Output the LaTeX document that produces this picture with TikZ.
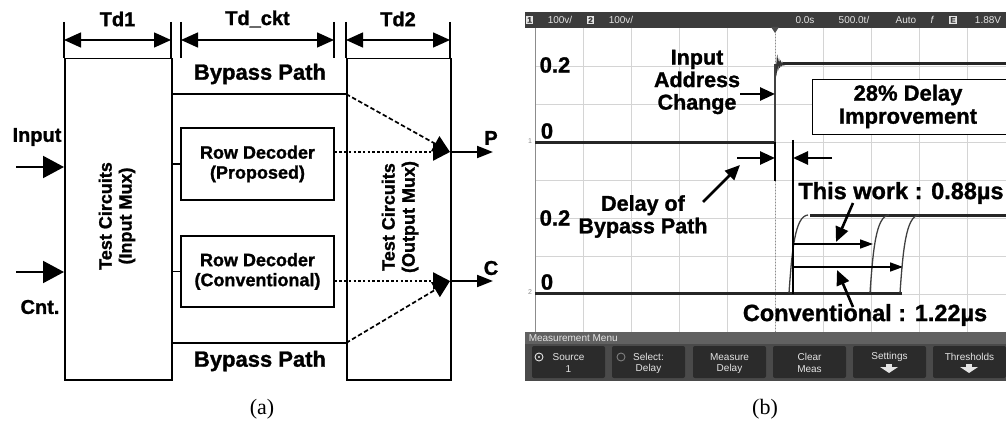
\documentclass[tikz,border=0pt]{standalone}
\usepackage{fontspec}
\setmainfont{Liberation Sans}[BoldFeatures={FakeBold=1.2}]
\newfontfamily\capfont{Liberation Serif}
\usetikzlibrary{arrows.meta}
\definecolor{scopebar}{HTML}{3C3C3C}
\definecolor{scopegrid}{HTML}{D4D4D4}
\definecolor{scopeedge}{HTML}{8C8C8C}
\definecolor{menustrip}{HTML}{616161}
\definecolor{menuback}{HTML}{4A4A4A}
\definecolor{softkey}{HTML}{2B2B2B}
\definecolor{keytext}{HTML}{E4E4E4}

\begin{document}
\begin{tikzpicture}[x=1pt, y=-1pt, line width=1.5pt,
    >={Triangle[length=17pt,width=15pt]},
    blk/.style={draw, line width=1.5pt, inner sep=0pt},
    txtA/.style={font=\bfseries\fontsize{18}{20}\selectfont, align=center, inner sep=0pt},
    txtB/.style={font=\bfseries\fontsize{20}{22}\selectfont, align=center, inner sep=0pt},
    txtC/.style={font=\bfseries\fontsize{22}{23}\selectfont, align=center, inner sep=0pt},
    txtD/.style={font=\bfseries\fontsize{23.5}{24}\selectfont, align=center, inner sep=0pt},
    txtE/.style={font=\bfseries\fontsize{21.5}{22.5}\selectfont, align=center, inner sep=0pt},
    dotline/.style={line width=2.4pt, dash pattern=on 2.5pt off 2.2pt},
    dashline/.style={line width=1.7pt, dash pattern=on 4.5pt off 2.5pt},
    muxtip/.style={-{Triangle[length=17pt,width=17pt]}},
    inarrow/.style={-{Triangle[length=21pt,width=22pt]}, line width=2pt},
    outarrow/.style={-{Triangle[length=16pt,width=12pt]}, line width=2pt},
    gridline/.style={scopegrid, line width=0.8pt},
    trace/.style={line width=3pt, black!85},
    edgeline/.style={line width=1.3pt, black!75},
    cursor/.style={line width=2.6pt},
    pointer/.style={-{Triangle[length=15pt,width=13pt]}, line width=2.6pt},
    thinarrow/.style={-{Triangle[length=13pt,width=9pt]}, line width=1.6pt},
    keylbl/.style={text=keytext, font=\fontsize{10}{10}\selectfont, inner sep=0pt},
    chtag/.style={fill=keytext, text=scopebar, font=\bfseries\fontsize{8}{8}\selectfont, inner sep=1pt},
    caption/.style={font=\capfont\fontsize{22}{22}\selectfont, inner sep=0pt}]

\path[use as bounding box, fill=white] (0,0) rectangle (1006,422);

% (a) measurement setup
\node[blk, minimum width=107pt, minimum height=321pt, anchor=north west] (inmux) at (64,58) {};
\node[blk, minimum width=104pt, minimum height=321pt, anchor=north west] (outmux) at (346,58) {};
\node[txtA, rotate=90] (inmuxlbl) at (117,216) {Test Circuits\\(Input Mux)};
\node[txtA, rotate=90] (outmuxlbl) at (400,217) {Test Circuits\\(Output Mux)};

\node[blk, txtA, minimum width=153pt, minimum height=72pt] (rdprop) at (257.5,164) {Row Decoder\\(Proposed)};
\node[blk, txtA, minimum width=153pt, minimum height=71pt] (rdconv) at (257.5,271.5) {Row Decoder\\(Conventional)};

% timing spans
\foreach \tx/\tn in {64/a, 171/b, 181/c, 334/d, 346/e, 450/f} {
    \coordinate (tk\tn) at (\tx,40);
    \draw (\tx,22) -- (\tx,58);
}
\draw[<->] (tka) -- (tkb);
\draw[<->] (tkc) -- (tkd);
\draw[<->] (tke) -- (tkf);
\node[txtB] (td1) at (117.5,19) {Td1};
\node[txtB] (tdckt) at (257.5,19) {Td\_ckt};
\node[txtB] (td2) at (398,19) {Td2};

% inputs
\coordinate (inpt) at (16,167);
\coordinate (cntpt) at (16,272);
\draw[inarrow] (inpt) -- (inpt -| inmux.west);
\draw[inarrow] (cntpt) -- (cntpt -| inmux.west);
\node[txtB] (inlbl) at (37,137) {Input};
\node[txtB] (cntlbl) at (40,307) {Cnt.};

% bypass paths
\coordinate (bpt) at (346,94);
\coordinate (bpb) at (346,343);
\draw (bpt -| inmux.east) -- (bpt);
\draw (bpb -| inmux.east) -- (bpb);
\node[txtC] (bptlbl) at (260,74) {Bypass Path};
\node[txtC] (bpblbl) at (260,361) {Bypass Path};

\draw (inmux.east |- rdprop.west) -- (rdprop.west);
\draw (inmux.east |- rdconv.west) -- (rdconv.west);

% outputs
\coordinate (pout) at (450,152);
\coordinate (cout) at (450,281);
\coordinate (pend) at (493,152);
\coordinate (cend) at (493,281);
\draw[dotline, muxtip] (rdprop.east |- pout) -- (pout);
\draw[dotline, muxtip] (rdconv.east |- cout) -- (cout);
\draw[dashline, muxtip] (bpt) -- (pout);
\draw[dashline, muxtip] (bpb) -- (cout);
\draw[outarrow] (pout) -- (pend);
\draw[outarrow] (cout) -- (cend);
\node[txtB] (plbl) at (491,138) {P};
\node[txtB] (clbl) at (491,268) {C};

\node[caption] (capa) at (262,409) {(a)};

% (b) scope capture
\begin{scope}
\clip (510,0) rectangle (1006,422);

% status bar
\fill[scopebar] (525,12) rectangle (1010,28);
\node[chtag] (ch1tag) at (529.5,20) {1};
\node[keylbl] (ch1scale) at (560,20) {100v/};
\node[chtag] (ch2tag) at (590.5,20) {2};
\node[keylbl] (ch2scale) at (621,20) {100v/};
\node[keylbl] (tpos) at (805,20) {0.0s};
\node[keylbl] (tscale) at (854,20) {500.0t/};
\node[keylbl] (tmode) at (906,20) {Auto};
\node[keylbl] (tslope) at (932,20) {\itshape f};
\node[chtag] (etag) at (953,20) {E};
\node[keylbl] (tlevel) at (988,20) {1.88V};

% graticule
\fill[white] (535,28) rectangle (1010,332);
\foreach \gx in {1,...,9}
    \draw[gridline] ({535+48*\gx},28) -- ({535+48*\gx},332);
\foreach \gy in {1,...,7}
    \draw[gridline] (535,{28+38.1*\gy}) -- (1010,{28+38.1*\gy});
\draw[scopeedge, dash pattern=on 1pt off 2pt, line width=0.8pt] (775,28) -- (775,332);
\draw[scopeedge, line width=1pt] (535,28) -- (535,332);
\fill[black!70] (771,27) -- (779,27) -- (775,33) -- cycle;
\node[text=scopeedge, font=\fontsize{7}{7}\selectfont, inner sep=0pt] (ch1mark) at (530,141) {1};
\node[text=scopeedge, font=\fontsize{7}{7}\selectfont, inner sep=0pt] (ch2mark) at (530,292) {2};

% channel 1
\draw[trace] (535,143) -- (775,143);
\draw[edgeline] (775,143) -- (775,64);
\draw[line width=0.8pt, black!80] plot[domain=0:16, samples=90, smooth]
    ({776+\x},{64+10*exp(-\x/3.5)*sin(\x*220)});
\draw[trace] (783,64) -- (1010,64);

% channel 2
\draw[trace] (535,293) -- (902,293);
\draw[trace] (810,215) -- (1010,215);
\foreach \rx in {789, 870, 900}
    \draw[edgeline] (\rx,293) .. controls (\rx+3,250) and (\rx+6,216) .. (\rx+19,215);

% cursors
\draw[cursor] (775,142) -- (775,181);
\draw[cursor] (793,140) -- (793,294);
\coordinate (cur1) at (775,158);
\coordinate (cur2) at (793,158);
\coordinate (cur1tail) at (737,158);
\coordinate (cur2tail) at (832,158);
\draw[pointer] (cur1tail) -- (cur1);
\draw[pointer] (cur2tail) -- (cur2);

\coordinate (dpstart) at (793,244);
\coordinate (dpend) at (873,244);
\coordinate (dcstart) at (793,267);
\coordinate (dcend) at (903,267);
\draw[thinarrow] (dpstart) -- (dpend);
\draw[thinarrow] (dcstart) -- (dcend);

% labels
\node[txtC] (lv1) at (555,65) {0.2};
\node[txtC] (lv2) at (547,131) {0};
\node[txtC] (lv3) at (555,218) {0.2};
\node[txtC] (lv4) at (547,282) {0};

\node[txtE] (addrlbl) at (697,82) {Input\\Address\\Change};
\coordinate (addrtail) at (740,94);
\coordinate (addrtip) at (775,94);
\draw[pointer] (addrtail) -- (addrtip);

\node[txtE] (bypasslbl) at (643,216.5) {Delay of\\Bypass Path};
\coordinate (bptail) at (703,202);
\coordinate (bptip) at (740,165);
\draw[pointer] (bptail) -- (bptip);

\node[txtD] (thislbl) at (901,193) {This work : 0.88µs};
\coordinate (thistail) at (853,203);
\coordinate (thistip) at (836,242);
\draw[pointer] (thistail) -- (thistip);

\node[txtD] (convlbl) at (865,315) {Conventional : 1.22µs};
\coordinate (convtail) at (853,307);
\coordinate (convtip) at (837,270);
\draw[pointer] (convtail) -- (convtip);

\node[draw, fill=white, line width=1.2pt, minimum width=200pt, minimum height=55pt,
    anchor=north west, inner sep=0pt] (gainbox) at (812,79) {};
\node[txtC] (gainlbl) at (908,106.5) {28\% Delay\\Improvement};

% measurement menu
\fill[menustrip] (525,332) rectangle (1010,344);
\node[keylbl, anchor=west] (menulbl) at (528,338.5) {Measurement Menu};
\fill[menuback] (525,344) rectangle (1010,381);
\foreach \kx/\ka/\kb [count=\ki] in {532/Source/1, 612/Select:/Delay, 693/Measure/Delay,
        773/Clear/Meas, 853/Settings/{}, 933/Thresholds/{}} {
    \fill[softkey, rounded corners=2pt] (\kx,346) rectangle ++(73,32);
    \node[keylbl] (key\ki top) at ({\kx+36.5},357) {\ka};
    \node[keylbl] (key\ki bot) at ({\kx+36.5},369) {\kb};
}
\draw[keytext, line width=0.9pt] (539,357) circle (4pt);
\fill[keytext] (539,357) circle (1.2pt);
\draw[keytext!45!softkey, line width=0.9pt] (621,357) circle (4pt);
\foreach \ax in {889, 969} {
    \fill[keytext] (\ax-3,364) rectangle (\ax+3,367.5);
    \fill[keytext] (\ax-9,367) -- (\ax+9,367) -- (\ax,373) -- cycle;
}
\end{scope}

\node[caption] (capb) at (765,409) {(b)};

\end{tikzpicture}
\end{document}
